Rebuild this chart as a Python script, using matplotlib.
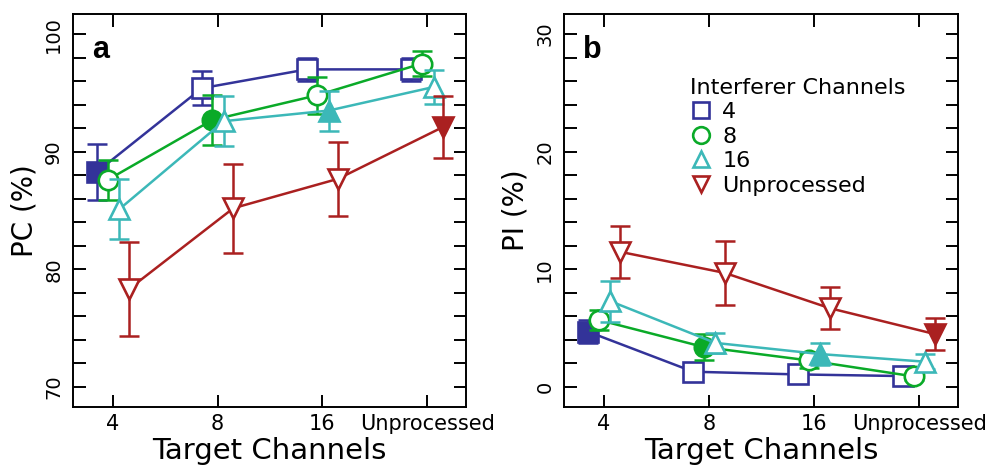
import numpy as np
import matplotlib.pyplot as plt
from matplotlib.lines import Line2D
from matplotlib.ticker import MultipleLocator

plt.rcParams['font.family'] = ['DejaVu Sans']

target_labels = ['4', '8', '16', 'Unprocessed']
interferer_labels = ['4', '8', '16', 'Unprocessed']

# PC (%) - panel a
pc_4 = [88.3, 95.4, 97.0, 97.0]
pc_4_err = [2.4, 1.45, 0.95, 0.95]
pc_8 = [87.6, 92.7, 94.8, 97.5]
pc_8_err = [1.7, 2.1, 1.55, 1.05]
pc_16 = [85.1, 92.6, 93.5, 95.5]
pc_16_err = [2.55, 2.15, 1.7, 1.45]
pc_unp = [78.3, 85.2, 87.7, 92.1]
pc_unp_err = [4.0, 3.8, 3.15, 2.65]

# PI (%) - panel b
pi_4 = [4.7, 1.3, 1.07, 0.93]
pi_4_err = [1.0, 0.3, 0.3, 0.3]
pi_8 = [5.7, 3.4, 2.26, 0.9]
pi_8_err = [0.85, 1.1, 0.65, 0.3]
pi_16 = [7.3, 3.75, 2.8, 2.15]
pi_16_err = [1.75, 0.85, 0.9, 0.65]
pi_unp = [11.5, 9.7, 6.7, 4.5]
pi_unp_err = [2.2, 2.7, 1.8, 1.35]

colors = ['#333399', '#0aaa28', '#3cb8b8', '#aa2020']
markers = ['s', 'o', '^', 'v']
offsets = [-0.15, -0.05, 0.06, 0.15]

fig = plt.figure(figsize=(9.9, 4.7), dpi=100)
ax_a = fig.add_axes([0.0737, 0.134, 0.397, 0.836])
ax_b = fig.add_axes([0.5697, 0.134, 0.398, 0.836])

x = np.arange(len(target_labels))


def draw_panel(ax, series, errs, ylim, yticks, ylabel, letter):
    for k, (y, e) in enumerate(zip(series, errs)):
        xs = x + offsets[k]
        c = colors[k]
        ax.errorbar(xs, y, yerr=e, fmt='none', ecolor=c, elinewidth=1.8,
                    capsize=7, capthick=1.8, zorder=2 + k)
        ax.plot(xs, y, color=c, lw=1.8, zorder=2 + k)
        for i in range(len(xs)):
            face = c if i == k else 'white'
            ax.plot(xs[i], y[i], marker=markers[k], markersize=14,
                    mfc=face, mec=c, mew=1.9, ls='none', zorder=3 + k)
    ax.set_xlim(-0.38, 3.37)
    ax.set_ylim(*ylim)
    ax.set_xticks(x)
    ax.set_xticklabels(target_labels, fontsize=15)
    ax.set_yticks(yticks)
    ax.set_yticklabels([str(t) for t in yticks], fontsize=14, rotation=90,
                       va='center')
    ax.yaxis.set_minor_locator(MultipleLocator(2))
    ax.tick_params(which='both', direction='in', length=9, width=1.4,
                   top=True, right=True)
    ax.tick_params(axis='y', pad=7)
    ax.tick_params(axis='x', pad=5)
    for s in ax.spines.values():
        s.set_linewidth(1.4)
    ax.set_xlabel('Target Channels', fontsize=21, labelpad=2)
    ax.set_ylabel(ylabel, fontsize=20, labelpad=4)
    ax.text(0.048, 0.888, letter, transform=ax.transAxes, fontsize=22,
            fontweight='bold', family='Liberation Sans')


draw_panel(ax_a, [pc_4, pc_8, pc_16, pc_unp],
           [pc_4_err, pc_8_err, pc_16_err, pc_unp_err],
           (68.3, 101.7), [70, 80, 90, 100], 'PC (%)', 'a')
draw_panel(ax_b, [pi_4, pi_8, pi_16, pi_unp],
           [pi_4_err, pi_8_err, pi_16_err, pi_unp_err],
           (-1.7, 31.7), [0, 10, 20, 30], 'PI (%)', 'b')

handles = [Line2D([], [], marker=markers[k], color=colors[k], mfc='white',
                  mew=1.9, markersize=12, ls='none') for k in range(4)]
ax_b.legend(handles, interferer_labels, title='Interferer Channels',
            loc='upper left', bbox_to_anchor=(0.32, 0.838), frameon=False,
            fontsize=16, title_fontsize=16, alignment='left',
            handletextpad=0.45, labelspacing=0.2, handlelength=1.0,
            borderaxespad=0, borderpad=0)

fig.savefig('out.png', dpi=100)
